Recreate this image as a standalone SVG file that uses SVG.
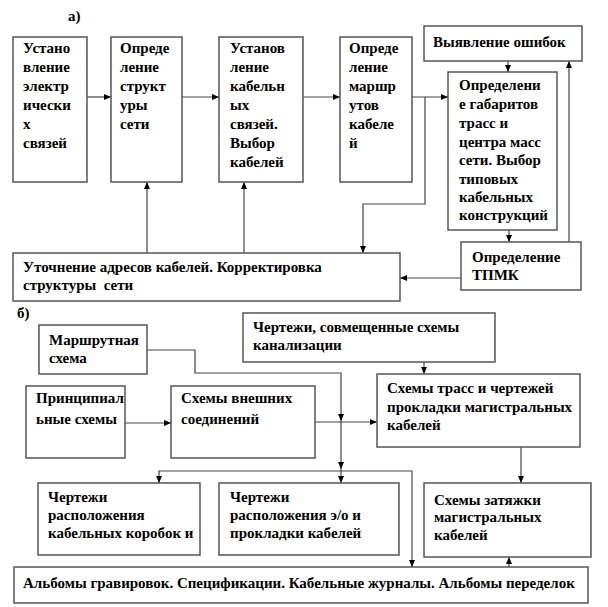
<svg xmlns="http://www.w3.org/2000/svg" width="608" height="607" viewBox="0 0 608 607">
<defs>
<marker id="ah" markerWidth="8" markerHeight="8" refX="7" refY="4" orient="auto" markerUnits="userSpaceOnUse">
<path d="M0,1 L7,4 L0,7 Z" fill="#000"/>
</marker>
<style>
.box{fill:#fff;stroke:#555;stroke-width:1.5}
.t{font-family:"Liberation Serif","Times New Roman",serif;font-weight:bold;font-size:15px;fill:#000}
.c{fill:none;stroke:#444;stroke-width:1.2}
.a{marker-end:url(#ah)}
</style>
</defs>
<rect width="608" height="607" fill="#fff"/>
<text class="t" x="68" y="21">а)</text>
<text class="t" x="17" y="318">б)</text>

<g id="connectors">
<path class="c a" d="M87,97 H111"/>
<path class="c a" d="M182,97 H219"/>
<path class="c a" d="M303,97 H340"/>
<path class="c a" d="M412,97 H448"/>
<path class="c a" d="M425,97 V204 H363 V253"/>
<path class="c a" d="M508,61 V72"/>
<path class="c a" d="M509,230 V242"/>
<path class="c a" d="M569,242 V61"/>
<path class="c a" d="M461,278 H400"/>
<path class="c a" d="M147,253 V182"/>
<path class="c a" d="M244,253 V182"/>
<path class="c a" d="M147,350 H195 V373 H341 V421"/>
<path class="c a" d="M341,421 V469"/>
<path class="c a" d="M341,469 V483"/>
<path class="c a" d="M125,423 H171"/>
<path class="c a" d="M315,422 H377"/>
<path class="c a" d="M424,362 V374"/>
<path class="c a" d="M341,471 H159 V483"/>
<path class="c a" d="M341,471 H412 V567"/>
<path class="c a" d="M521,447 V483"/>
<path class="c a" d="M509,567 V557"/>
</g>

<g id="n1"><rect class="box" x="13" y="37" width="74" height="145"/>
<text class="t" x="23" y="53">Устано</text><text class="t" x="23" y="72">вление</text><text class="t" x="23" y="91">электр</text><text class="t" x="23" y="110">ически</text><text class="t" x="23" y="129">х</text><text class="t" x="23" y="148">связей</text></g>
<g id="n2"><rect class="box" x="111" y="37" width="71" height="145"/>
<text class="t" x="120" y="53">Опреде</text><text class="t" x="120" y="72">ление</text><text class="t" x="120" y="91">структ</text><text class="t" x="120" y="110">уры</text><text class="t" x="120" y="129">сети</text></g>
<g id="n3"><rect class="box" x="219" y="37" width="84" height="145"/>
<text class="t" x="230" y="53">Установ</text><text class="t" x="230" y="72">ление</text><text class="t" x="230" y="91">кабельн</text><text class="t" x="230" y="110">ых</text><text class="t" x="230" y="129">связей.</text><text class="t" x="230" y="148">Выбор</text><text class="t" x="230" y="167">кабелей</text></g>
<g id="n4"><rect class="box" x="340" y="37" width="72" height="145"/>
<text class="t" x="349" y="53">Опреде</text><text class="t" x="349" y="72">ление</text><text class="t" x="349" y="91">маршр</text><text class="t" x="349" y="110">утов</text><text class="t" x="349" y="129">кабеле</text><text class="t" x="349" y="148">й</text></g>
<g id="n5"><rect class="box" x="424" y="26" width="158" height="35"/>
<text class="t" x="433" y="47">Выявление ошибок</text></g>
<g id="n6"><rect class="box" x="448" y="72" width="109" height="158"/>
<text class="t" x="459" y="90">Определени</text><text class="t" x="459" y="109">е габаритов</text><text class="t" x="459" y="128">трасс и</text><text class="t" x="459" y="147">центра масс</text><text class="t" x="459" y="165">сети. Выбор</text><text class="t" x="459" y="184">типовых</text><text class="t" x="459" y="202">кабельных</text><text class="t" x="459" y="220">конструкций</text></g>
<g id="n7"><rect class="box" x="461" y="242" width="120" height="48"/>
<text class="t" x="472" y="262">Определение</text><text class="t" x="472" y="280">ТПМК</text></g>
<g id="n8"><rect class="box" x="13" y="253" width="387" height="48"/>
<text class="t" x="23" y="272">Уточнение адресов кабелей. Корректировка</text><text class="t" x="23" y="290" xml:space="preserve">структуры  сети</text></g>

<g id="n9"><rect class="box" x="39" y="325" width="108" height="49"/>
<text class="t" x="49" y="345">Маршрутная</text><text class="t" x="49" y="363">схема</text></g>
<g id="n10"><rect class="box" x="243" y="313" width="252" height="49"/>
<text class="t" x="253" y="332">Чертежи, совмещенные схемы</text><text class="t" x="253" y="350">канализации</text></g>
<g id="n11"><rect class="box" x="26" y="386" width="99" height="72"/>
<text class="t" x="36" y="403">Принципиал</text><text class="t" x="36" y="424">ьные схемы</text></g>
<g id="n12"><rect class="box" x="171" y="386" width="144" height="72"/>
<text class="t" x="181" y="403">Схемы внешних</text><text class="t" x="181" y="424">соединений</text></g>
<g id="n13"><rect class="box" x="377" y="374" width="203" height="73"/>
<text class="t" x="387" y="393">Схемы трасс и чертежей</text><text class="t" x="387" y="412">прокладки магистральных</text><text class="t" x="387" y="430">кабелей</text></g>
<g id="n14"><rect class="box" x="38" y="483" width="162" height="72"/>
<text class="t" x="48" y="502">Чертежи</text><text class="t" x="48" y="520">расположения</text><text class="t" x="48" y="538">кабельных коробок и</text></g>
<g id="n15"><rect class="box" x="219" y="483" width="180" height="72"/>
<text class="t" x="230" y="502">Чертежи</text><text class="t" x="230" y="520">расположения э/о и</text><text class="t" x="230" y="538">прокладки кабелей</text></g>
<g id="n16"><rect class="box" x="424" y="483" width="167" height="74"/>
<text class="t" x="434" y="505">Схемы затяжки</text><text class="t" x="434" y="522">магистральных</text><text class="t" x="434" y="540">кабелей</text></g>
<g id="n17"><rect class="box" x="14" y="567" width="574" height="36"/>
<text class="t" x="23" y="588">Альбомы гравировок. Спецификации. Кабельные журналы. Альбомы переделок</text></g>
</svg>
